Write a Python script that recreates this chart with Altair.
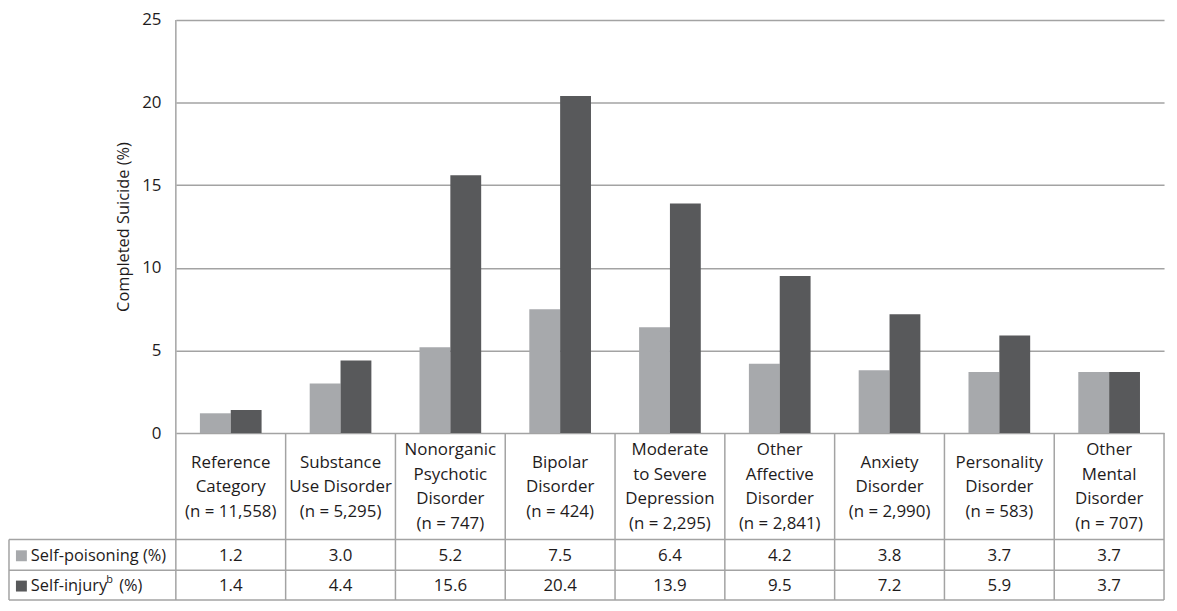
import altair as alt
import pandas as pd

# ---- data ----
categories = ["Reference", "Substance", "Psychotic", "Bipolar", "Depression",
              "OtherAffective", "Anxiety", "Personality", "OtherMental"]
cat_labels = [
    "Reference\nCategory\n(n = 11,558)",
    "Substance\nUse Disorder\n(n = 5,295)",
    "Nonorganic\nPsychotic\nDisorder\n(n = 747)",
    "Bipolar\nDisorder\n(n = 424)",
    "Moderate\nto Severe\nDepression\n(n = 2,295)",
    "Other\nAffective\nDisorder\n(n = 2,841)",
    "Anxiety\nDisorder\n(n = 2,990)",
    "Personality\nDisorder\n(n = 583)",
    "Other\nMental\nDisorder\n(n = 707)",
]
self_poisoning = [1.2, 3.0, 5.2, 7.5, 6.4, 4.2, 3.8, 3.7, 3.7]
self_injury = [1.4, 4.4, 15.6, 20.4, 13.9, 9.5, 7.2, 5.9, 3.7]
series_names = ["Self-poisoning", "Self-injury"]
y_ticks = [0, 5, 10, 15, 20, 25]

# ---- styling ----
FONT = "Open Sans"
FS = 17
TEXT = "#1e1b1c"
LINE = "#a3a3a3"
LIGHT = "#a7a9ac"
DARK = "#58595b"
W, H = 995, 416
ROW1_TOP, ROW2_TOP, BOTTOM = 523, 554, 584
LEFT = -168
LH = 24.7

long_df = pd.DataFrame({
    "cat": categories * 2,
    "series": [series_names[0]] * 9 + [series_names[1]] * 9,
    "value": self_poisoning + self_injury,
})
poison_df = pd.DataFrame({"cat": categories, "value": self_poisoning})
injury_df = pd.DataFrame({"cat": categories, "value": self_injury})
label_df = pd.DataFrame({"cat": categories, "label": cat_labels})
label_df["nlines"] = label_df["label"].str.count("\n") + 1
one = pd.DataFrame({"k": [0]})

xscale = alt.Scale(domain=categories, paddingInner=0, paddingOuter=0)
X = alt.X("cat:N", sort=categories, scale=xscale, axis=None)
color_scale = alt.Scale(domain=series_names, range=[LIGHT, DARK])

bars = alt.Chart(long_df).mark_bar().encode(
    x=X,
    xOffset=alt.XOffset("series:N", sort=series_names,
                        scale=alt.Scale(paddingOuter=0.78, paddingInner=0)),
    y=alt.Y("value:Q",
            scale=alt.Scale(domain=[0, 25], nice=False),
            axis=alt.Axis(values=y_ticks, title="Completed Suicide (%)",
                          grid=True, gridColor=LINE, gridWidth=1.5,
                          domain=False, ticks=False, labelPadding=15,
                          labelFont=FONT, labelFontSize=FS, labelColor=TEXT,
                          titleFont=FONT, titleFontSize=FS - 0.5, titleColor=TEXT,
                          titleFontWeight="normal", titlePadding=10)),
    color=alt.Color("series:N", scale=color_scale, legend=None),
)

def hrule(y, x0=LEFT, x1=W):
    return alt.Chart(one).mark_rule(color=LINE, strokeWidth=1.5).encode(
        x=alt.value(x0), x2=alt.value(x1), y=alt.value(y))

def vrule_px(x, y0, y1):
    return alt.Chart(one).mark_rule(color=LINE, strokeWidth=1.5).encode(
        x=alt.value(x), y=alt.value(y0), y2=alt.value(y1))

col_rules = alt.Chart(label_df).mark_rule(color=LINE, strokeWidth=1.5).encode(
    x=alt.X("cat:N", sort=categories, scale=xscale, axis=None, bandPosition=1),
    y=alt.value(H), y2=alt.value(BOTTOM))

center = (H + ROW1_TOP) / 2 + 1

def cat_text(n):
    df = label_df[label_df["nlines"] == n][["cat", "label"]]
    return alt.Chart(df).mark_text(
        font=FONT, fontSize=FS, color=TEXT, lineBreak="\n", lineHeight=LH,
        baseline="middle", align="center").encode(
        x=alt.X("cat:N", sort=categories, scale=xscale, axis=None, bandPosition=0.5),
        y=alt.value(center - (n - 1) * LH / 2), text="label:N")

def val_text(df, y):
    return alt.Chart(df).mark_text(
        font=FONT, fontSize=FS, color=TEXT, baseline="middle", align="center").encode(
        x=alt.X("cat:N", sort=categories, scale=xscale, axis=None, bandPosition=0.5),
        y=alt.value(y), text=alt.Text("value:Q", format=".1f"))

def legend_sq(color, yc):
    return alt.Chart(one).mark_rect(color=color).encode(
        x=alt.value(-161), x2=alt.value(-150), y=alt.value(yc - 5.5), y2=alt.value(yc + 5.5))

def label(txt, x, y, size=FS):
    return alt.Chart(one).mark_text(
        font=FONT, fontSize=size, color=TEXT, baseline="middle", align="left",
        text=txt).encode(x=alt.value(x), y=alt.value(y))

r1 = (ROW1_TOP + ROW2_TOP) / 2 + 1
r2 = (ROW2_TOP + BOTTOM) / 2 + 1

chart = alt.layer(
    bars,
    hrule(ROW1_TOP), hrule(ROW2_TOP), hrule(BOTTOM),
    vrule_px(LEFT, ROW1_TOP, BOTTOM),
    vrule_px(0, 0, BOTTOM),
    col_rules,
    cat_text(3), cat_text(4),
    val_text(poison_df, r1),
    val_text(injury_df, r2),
    legend_sq(LIGHT, r1),
    legend_sq(DARK, r2),
    label("Self-poisoning (%)", -146, r1, FS - 0.5),
    label("Self-injury", -146, r2, FS - 0.5),
    label("b", -70, r2 - 6, 11),
    label("(%)", -57, r2, FS - 0.5),
).properties(
    width=W, height=H,
    padding={"left": 169, "top": 10, "right": 5, "bottom": 169},
    autosize=alt.AutoSizeParams(type="none"),
).configure_view(stroke=None)

chart.save("out.html", embed_options={"renderer": "svg", "actions": False})
